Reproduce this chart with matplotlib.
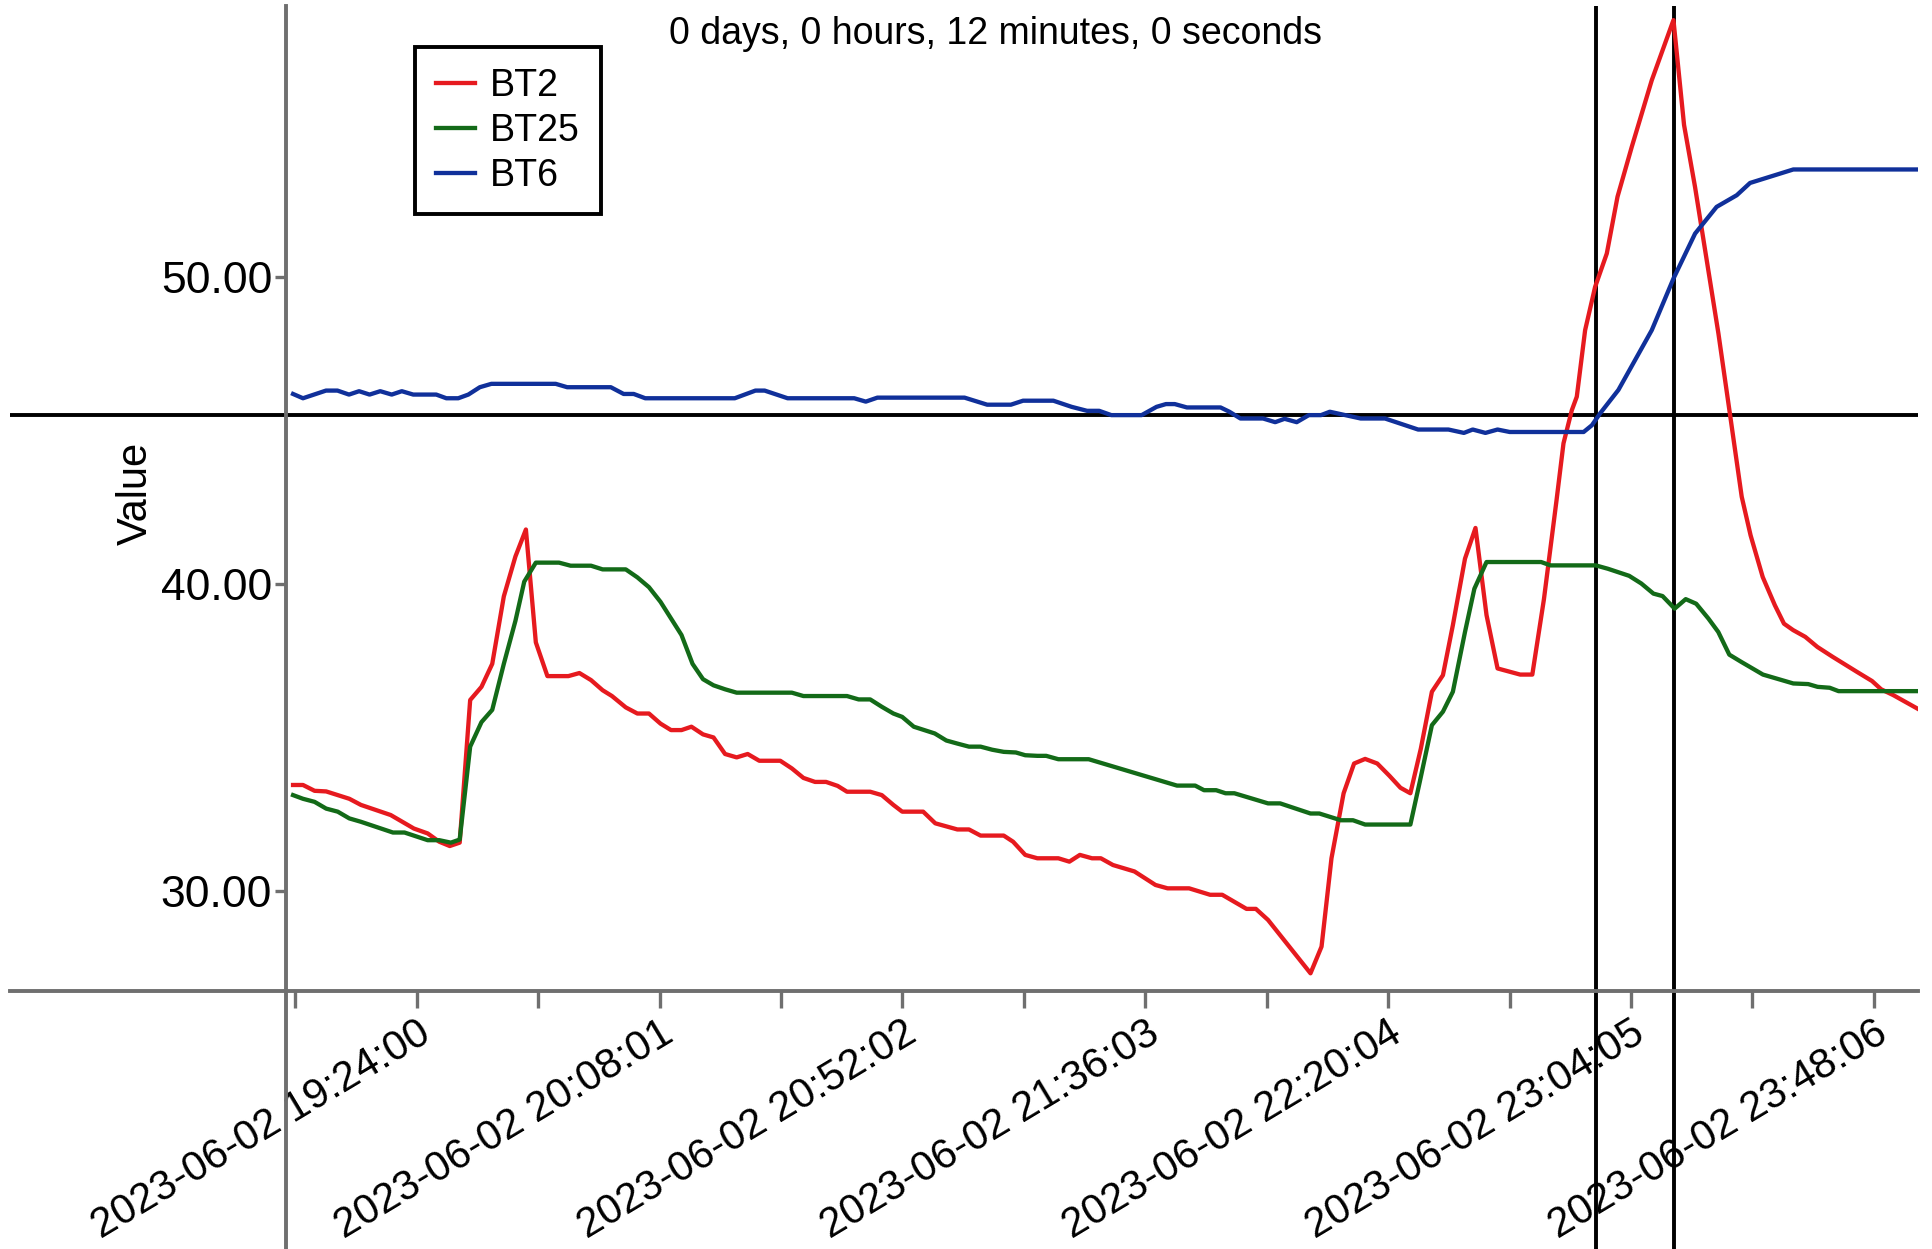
import numpy as np
import pandas as pd
import matplotlib
matplotlib.use("Agg")
import matplotlib.pyplot as plt
import matplotlib.dates as mdates

plt.rcParams['font.family'] = ['Liberation Sans Narrow', 'Liberation Sans', 'DejaVu Sans']

# minutes after 2023-06-02 19:02:00
start = pd.Timestamp("2023-06-02 19:02:00")

bt2_min = [-0.4, 1.4, 3.5, 5.6, 9.8, 11.9, 17.3, 21.5, 24.0, 26.1, 28.0, 29.8,
           31.7, 33.75, 35.7, 37.8, 39.9, 41.8, 43.6, 45.7, 49.5, 51.5, 53.6,
           55.7, 57.4, 59.9, 62.0, 64.1, 66.2, 68.1, 70.0, 71.8, 73.9, 75.8,
           77.9, 80.0, 82.0, 84.1, 87.9, 90.0, 92.1, 94.2, 96.2, 98.3, 100.0,
           104.2, 106.3, 108.4, 110.0, 113.8, 116.0, 118.0, 120.0, 122.1,
           124.2, 128.4, 130.1, 132.3, 134.5, 138.3, 140.3, 142.2, 144.4,
           146.0, 148.2, 152.1, 155.9, 158.1, 162.0, 165.8, 168.0, 172.4,
           174.1, 176.3, 184.0, 186.0, 187.8, 190.0, 191.9, 193.9, 196.1,
           198.3, 200.3, 202.1, 204.0, 206.0, 208.0, 209.8, 212.0, 213.9,
           215.9, 217.9, 222.0, 224.2, 226.3, 228.6, 229.85, 231.36, 232.26,
           233.77, 235.58, 237.7, 239.64, 242.23, 245.85, 249.78, 251.7,
           253.69, 257.93, 260.03, 262.15, 263.76, 265.96, 268.16, 269.81,
           271.47, 273.67, 275.87, 278.62, 283.02, 285.77, 287.42, 289.62,
           294.0]
bt2_val = [33.45, 33.45, 33.26, 33.24, 33.0, 32.8, 32.47, 32.03, 31.87, 31.6,
           31.46, 31.57, 36.22, 36.65, 37.4, 39.6, 40.9, 41.78, 38.1, 37.0,
           37.0, 37.1, 36.87, 36.54, 36.35, 35.98, 35.78, 35.78, 35.45, 35.24,
           35.24, 35.35, 35.1, 35.0, 34.46, 34.35, 34.46, 34.24, 34.24, 33.99,
           33.68, 33.55, 33.55, 33.42, 33.23, 33.23, 33.12, 32.8, 32.58, 32.58,
           32.2, 32.1, 32.0, 32.0, 31.8, 31.8, 31.6, 31.17, 31.06, 31.06,
           30.95, 31.17, 31.06, 31.06, 30.84, 30.63, 30.19, 30.08, 30.08,
           29.87, 29.87, 29.41, 29.41, 29.05, 27.31, 28.18, 31.06, 33.18,
           34.15, 34.3, 34.15, 33.75, 33.36, 33.18, 34.64, 36.49, 37.03,
           38.66, 40.83, 41.83, 38.99, 37.25, 37.05, 37.05, 39.5, 42.75,
           44.59, 45.67, 46.11, 48.28, 49.69, 50.78, 52.63, 54.26, 56.43,
           58.39, 54.97, 52.95, 48.17, 45.53, 42.85, 41.59, 40.23, 39.31,
           38.71, 38.5, 38.28, 37.95, 37.63, 37.14, 36.84, 36.57, 36.38, 35.94]

bt25_min = [-0.4, 1.4, 3.5, 5.6, 7.7, 9.8, 11.9, 17.7, 19.8, 24.0, 26.1, 28.2,
            29.8, 31.7, 33.75, 35.7, 37.8, 39.9, 41.5, 43.6, 47.8, 49.9, 53.6,
            55.7, 59.9, 62.0, 64.1, 66.2, 68.1, 70.0, 72.0, 73.9, 75.8, 77.9,
            80.0, 90.0, 92.1, 100.0, 102.1, 104.2, 106.3, 108.4, 110.0, 112.1,
            115.9, 118.0, 120.0, 122.1, 124.2, 126.3, 128.4, 130.6, 132.3,
            134.5, 136.1, 138.3, 143.8, 159.8, 163.1, 164.7, 166.9, 168.6,
            170.2, 176.3, 178.5, 184.0, 185.6, 189.5, 191.7, 193.9, 202.1,
            203.8, 206.0, 208.0, 209.8, 212.0, 213.7, 215.9, 225.8, 227.5,
            235.7, 237.9, 241.75, 243.95, 246.15, 247.8, 250.0, 252.0, 253.9,
            256.1, 257.9, 259.9, 262.1, 266.0, 271.5, 274.2, 275.9, 278.1,
            279.7, 294.0]
bt25_val = [33.12, 33.0, 32.9, 32.68, 32.58, 32.36, 32.25, 31.9, 31.9, 31.65,
            31.65, 31.57, 31.67, 34.7, 35.5, 35.9, 37.4, 38.8, 40.08, 40.7,
            40.7, 40.6, 40.6, 40.48, 40.48, 40.22, 39.9, 39.42, 38.88, 38.34,
            37.4, 36.9, 36.7, 36.57, 36.46, 36.46, 36.35, 36.35, 36.24, 36.24,
            36.0, 35.78, 35.67, 35.35, 35.13, 34.9, 34.8, 34.7, 34.7, 34.6,
            34.53, 34.51, 34.42, 34.4, 34.4, 34.29, 34.29, 33.43, 33.43, 33.28,
            33.28, 33.18, 33.18, 32.85, 32.85, 32.52, 32.52, 32.3, 32.3, 32.16,
            32.16, 33.55, 35.4, 35.84, 36.49, 38.44, 39.85, 40.72, 40.72,
            40.61, 40.61, 40.5, 40.27, 40.02, 39.69, 39.61, 39.2, 39.51, 39.36,
            38.88, 38.44, 37.7, 37.46, 37.05, 36.76, 36.74, 36.65, 36.62,
            36.51, 36.51]

bt6_min = [-0.4, 1.4, 5.57, 7.65, 9.74, 11.57, 13.47, 15.4, 17.48, 19.31,
           21.38, 25.55, 27.38, 29.54, 31.37, 33.45, 35.54, 47.2, 49.28, 57.19,
           59.51, 61.34, 63.43, 79.66, 83.4, 85.07, 89.23, 101.3, 103.4, 105.5,
           121.3, 125.4, 129.7, 131.9, 137.4, 140.7, 143.5, 145.7, 147.9,
           153.4, 156.1, 157.8, 159.4, 161.6, 167.7, 169.3, 171.3, 175.4,
           177.6, 179.3, 181.5, 183.7, 185.9, 187.5, 190.3, 193.1, 197.5,
           203.5, 209.0, 211.8, 213.4, 215.7, 217.9, 220.1, 233.5, 235.0,
           236.5, 239.8, 245.85, 249.8, 253.7, 257.6, 261.25, 263.66, 271.5,
           294.0]
bt6_val = [46.2, 46.06, 46.31, 46.31, 46.18, 46.29, 46.18, 46.29, 46.18, 46.29,
           46.18, 46.18, 46.06, 46.06, 46.18, 46.42, 46.53, 46.53, 46.42, 46.42,
           46.2, 46.2, 46.06, 46.06, 46.31, 46.31, 46.06, 46.06, 45.95, 46.08,
           46.08, 45.85, 45.85, 45.98, 45.98, 45.78, 45.65, 45.65, 45.51,
           45.51, 45.78, 45.87, 45.87, 45.76, 45.76, 45.62, 45.4, 45.4, 45.28,
           45.39, 45.28, 45.51, 45.51, 45.62, 45.51, 45.4, 45.4, 45.04, 45.04,
           44.93, 45.04, 44.93, 45.04, 44.96, 44.96, 45.18, 45.57, 46.33,
           48.28, 49.97, 51.43, 52.3, 52.68, 53.08, 53.52, 53.52]

cursor_min = [235.75, 249.8]
cursor_val = 45.52
title_text = "0 days, 0 hours, 12 minutes, 0 seconds"
yticks = [30, 40, 50]
first_tick = pd.Timestamp("2023-06-02 19:24:00")
tick_step = pd.Timedelta(minutes=44, seconds=1)


def to_time(mins):
    return start + pd.to_timedelta(np.array(mins, dtype=float), unit="m")


grey = "#6f6f6f"
W, H = 1933, 1249
fig = plt.figure(figsize=(W / 100, H / 100), dpi=100)
ax = fig.add_axes([10 / W, 0, 1908 / W, 1 - 6 / H])

ax.plot(to_time(bt2_min), bt2_val, color="#e61a1f", lw=3.1, label="BT2", zorder=3)
ax.plot(to_time(bt25_min), bt25_val, color="#136a18", lw=3.1, label="BT25", zorder=3)
ax.plot(to_time(bt6_min), bt6_val, color="#10309a", lw=3.1, label="BT6", zorder=3)

ax.axhline(cursor_val, color="black", lw=2.8, zorder=2)
for t in to_time(cursor_min):
    ax.axvline(t, color="black", lw=2.8, zorder=2)

for s in ["top", "right"]:
    ax.spines[s].set_visible(False)
ax.spines["left"].set_position(("data", mdates.date2num(to_time([-1.67])[0])))
ax.spines["bottom"].set_position(("data", 26.73))
for s in ["left", "bottom"]:
    ax.spines[s].set_color(grey)
    ax.spines[s].set_linewidth(2.8)

majors = [first_tick + k * tick_step for k in range(7)]
minors = [first_tick + (k - 0.5) * tick_step for k in range(7)]
ax.set_xticks(majors)
ax.set_xticklabels([m.strftime("%Y-%m-%d %H:%M:%S") for m in majors],
                   rotation=31, ha="right", va="top", rotation_mode="anchor")
ax.set_xticks(minors, minor=True)
ax.tick_params(axis="x", which="both", length=12, width=2.4, color=grey,
               labelsize=30, pad=4)

ax.set_yticks(yticks)
ax.set_yticklabels(["%.2f" % v for v in yticks])
ax.tick_params(axis="y", length=8, width=2.4, color=grey, labelsize=32, pad=2)

# limits last, so the tick calls cannot widen them
ax.set_xlim(to_time([-51.7])[0], to_time([294.1])[0])
ax.set_ylim(18.32, 58.85)

fig.text(136 / W, 1 - 493 / H, "Value", rotation=90, ha="center", va="center",
         fontsize=30)
fig.text(996 / W, 1 - 34 / H, title_text, ha="center", va="center", fontsize=27)

leg = ax.legend(loc="upper left", bbox_to_anchor=(415 / W, 1 - 47 / H),
                bbox_transform=fig.transFigure, fancybox=False, framealpha=1,
                edgecolor="black", fontsize=27, handlelength=1.05,
                handletextpad=0.4, labelspacing=0.24, borderpad=0.55,
                borderaxespad=0)
leg.get_frame().set_linewidth(2.8)

fig.savefig("out.png", dpi=100, facecolor="white")
